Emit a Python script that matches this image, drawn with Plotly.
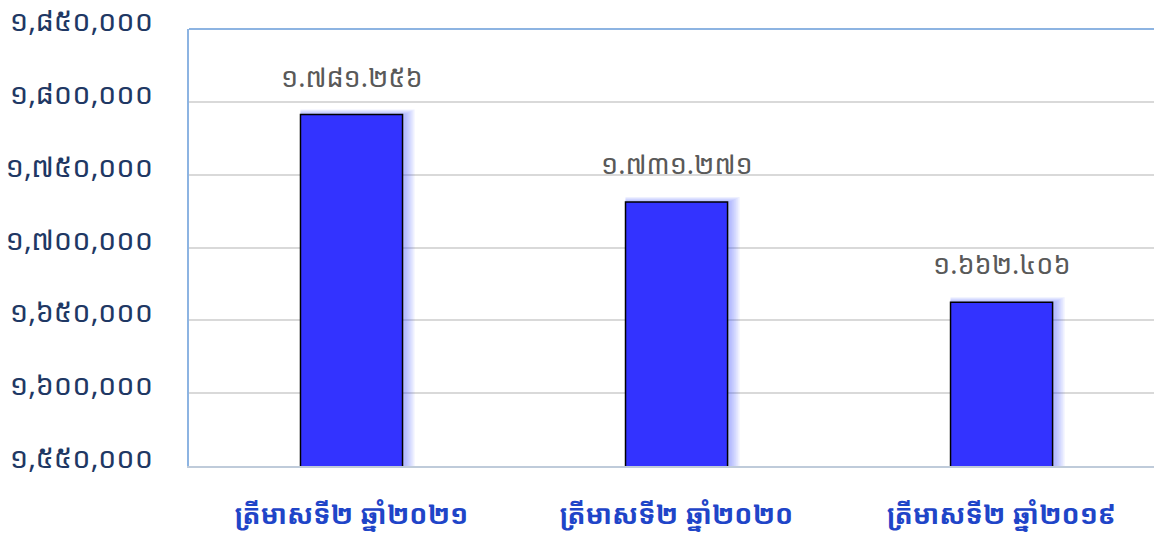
import plotly.graph_objects as go

categories = ["ត្រីមាសទី២ ឆ្នាំ២០២១", "ត្រីមាសទី២ ឆ្នាំ២០២០", "ត្រីមាសទី២ ឆ្នាំ២០១៩"]
values = [1791256, 1731271, 1662406]
value_labels = ["១.៧៨១.២៥៦", "១.៧៣១.២៧១", "១.៦៦២.៤០៦"]
tick_values = [1550000, 1600000, 1650000, 1700000, 1750000, 1800000, 1850000]

KH = str.maketrans("0123456789", "០១២៣៤៥៦៧៨៩")
tick_text = [f"{v:,}".translate(KH) for v in tick_values]

font_family = "Noto Sans Khmer, Noto Sans, DejaVu Sans, sans-serif"

x_pos = list(range(len(categories)))
bar_w = 0.314
px_x = 1 / 325.0          # one pixel in x data units
px_y = 50000 / 73.0       # one pixel in y data units

fig = go.Figure()
# soft glow/shadow, built as fading layers around each bar
for k in [10, 8, 6, 4, 2]:
    fig.add_trace(go.Bar(
        x=x_pos, y=[v + k * 0.5 * px_y for v in values],
        width=bar_w + (k + 2) * px_x, offset=-bar_w / 2,
        marker=dict(color="rgba(70,85,255,0.09)", line=dict(width=0)),
        hoverinfo="skip", showlegend=False,
    ))
fig.add_trace(go.Bar(
    x=x_pos, y=values, width=bar_w,
    marker=dict(color="#3333FF", line=dict(color="black", width=1.5)),
    showlegend=False,
))

for xi, v, lab in zip(x_pos, values, value_labels):
    fig.add_annotation(
        x=xi, y=v, text=lab, showarrow=False, yanchor="bottom", yshift=18,
        font=dict(size=27, color="#595959", family=font_family),
    )

fig.update_layout(
    width=1154, height=536,
    margin=dict(l=189, r=0, t=29, b=70),
    paper_bgcolor="white", plot_bgcolor="white",
    barmode="overlay",
    font=dict(family=font_family),
    xaxis=dict(
        range=[-0.5, 2.469], tickvals=x_pos,
        ticktext=[f"<b>{c}</b>" for c in categories],
        tickfont=dict(size=27, color="#1F45C8", family=font_family),
        showgrid=False, showline=True, linecolor="#BFCBDA", linewidth=2,
        ticks="", ticklabelstandoff=24,
    ),
    yaxis=dict(
        range=[1550000, 1850000], tickvals=tick_values, ticktext=tick_text,
        tickfont=dict(size=29, color="#1F3864", family=font_family),
        showgrid=True, gridcolor="#D9D9D9", gridwidth=1.5,
        showline=True, linecolor="#8DB4E2", linewidth=2,
        ticks="", ticklabelstandoff=28, ticklabelshift=-8, zeroline=False,
    ),
    shapes=[dict(type="line", xref="paper", yref="paper", x0=0, x1=1, y0=1, y1=1,
                 line=dict(color="#8DB4E2", width=2))],
)

fig.write_html(
    "out.html",
    config={"displayModeBar": False},
    post_script="document.body.style.margin='0';document.body.style.overflow='hidden';",
)
